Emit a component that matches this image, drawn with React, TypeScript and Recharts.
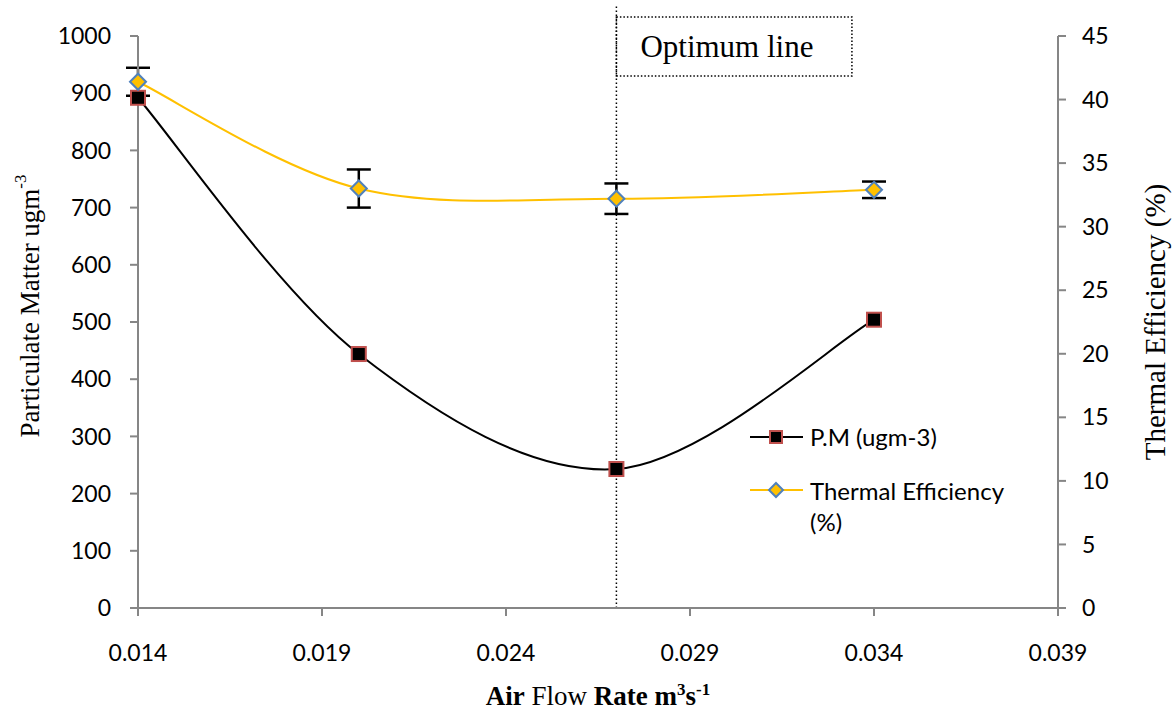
import {
  ErrorBar,
  Legend,
  Line,
  LineChart,
  ReferenceArea,
  ReferenceLine,
  XAxis,
  YAxis,
} from "recharts";

const airFlow = [0.014, 0.02, 0.027, 0.034];
const particulate = [892, 444, 243, 504];
const thermalEff = [41.4, 33.0, 32.2, 32.9];
const thermalErr = [1.1, 1.5, 1.2, 0.65];

const xTicks = [0.014, 0.019, 0.024, 0.029, 0.034, 0.039];
const pmTicks = [0, 100, 200, 300, 400, 500, 600, 700, 800, 900, 1000];
const teTicks = [0, 5, 10, 15, 20, 25, 30, 35, 40, 45];

const optimumFlow = 0.027;

const data = airFlow.map((x, i) => ({
  x,
  pm: particulate[i],
  te: thermalEff[i],
  teErr: thermalErr[i],
}));

const AXIS_GREY = "#868686";
const SANS = "Lato, 'Open Sans', sans-serif";
const SERIF = "'Liberation Serif', 'DejaVu Serif', serif";

// Excel-like smoothed line: Catmull-Rom segments converted to cubic beziers
const smoothCurve = (context: any) => {
  let pts: [number, number][] = [];
  return {
    areaStart() {},
    areaEnd() {},
    lineStart() {
      pts = [];
    },
    point(x: number, y: number) {
      pts.push([+x, +y]);
    },
    lineEnd() {
      if (!pts.length) return;
      context.moveTo(pts[0][0], pts[0][1]);
      for (let i = 0; i < pts.length - 1; i++) {
        const p0 = pts[Math.max(i - 1, 0)];
        const p1 = pts[i];
        const p2 = pts[i + 1];
        const p3 = pts[Math.min(i + 2, pts.length - 1)];
        context.bezierCurveTo(
          p1[0] + (p2[0] - p0[0]) / 6,
          p1[1] + (p2[1] - p0[1]) / 6,
          p2[0] - (p3[0] - p1[0]) / 6,
          p2[1] - (p3[1] - p1[1]) / 6,
          p2[0],
          p2[1]
        );
      }
    },
  };
};

const SquareDot = (props: any) => {
  const { cx, cy } = props;
  if (cx == null || cy == null) return null;
  return (
    <rect x={cx - 7} y={cy - 7} width={14} height={14} fill="#000" stroke="#C0504D" strokeWidth={2} />
  );
};

const DiamondDot = (props: any) => {
  const { cx, cy } = props;
  if (cx == null || cy == null) return null;
  return (
    <polygon
      points={`${cx},${cy - 8} ${cx + 8},${cy} ${cx},${cy + 8} ${cx - 8},${cy}`}
      fill="#FFC000"
      stroke="#4F81BD"
      strokeWidth={2}
    />
  );
};

const renderLegend = () => (
  <div style={{ fontFamily: SANS, fontSize: 24, color: "#000", lineHeight: "31px" }}>
    <div style={{ display: "flex", alignItems: "center", height: 31 }}>
      <svg width={56} height={20}>
        <line x1={0} y1={10} x2={53} y2={10} stroke="#000" strokeWidth={2} />
        <rect x={20} y={4} width={12} height={12} fill="#000" stroke="#C0504D" strokeWidth={2} />
      </svg>
      <span style={{ marginLeft: 4 }}>P.M (ugm-3)</span>
    </div>
    <div style={{ display: "flex", alignItems: "flex-start", marginTop: 23 }}>
      <svg width={56} height={31} style={{ flexShrink: 0 }}>
        <line x1={0} y1={15} x2={53} y2={15} stroke="#FFC000" strokeWidth={2} />
        <polygon points="26,8 33,15 26,22 19,15" fill="#FFC000" stroke="#4F81BD" strokeWidth={2} />
      </svg>
      <span style={{ marginLeft: 4 }}>
        Thermal Efficiency
        <br />
        (%)
      </span>
    </div>
  </div>
);

const XTitle = (props: any) => {
  const { viewBox } = props;
  const cx = viewBox.x + viewBox.width / 2;
  return (
    <text x={cx} y={705} textAnchor="middle" fontFamily={SERIF} fontSize={27} fill="#000">
      <tspan fontWeight="bold">Air</tspan>
      <tspan> Flow </tspan>
      <tspan fontWeight="bold">Rate m</tspan>
      <tspan fontWeight="bold" fontSize={17} dy={-10}>3</tspan>
      <tspan fontWeight="bold" dy={10}>s</tspan>
      <tspan fontWeight="bold" fontSize={17} dy={-10}>-1</tspan>
    </text>
  );
};

const LeftTitle = (props: any) => {
  const { viewBox } = props;
  const cy = viewBox.y + viewBox.height / 2 - 16;
  return (
    <text
      x={30}
      y={cy}
      transform={`rotate(-90, 30, ${cy})`}
      textAnchor="middle"
      dominantBaseline="central"
      fontFamily={SERIF}
      fontSize={27}
      fill="#000"
    >
      Particulate Matter ugm
      <tspan fontSize={17} dy={-10}>-3</tspan>
    </text>
  );
};

const RightTitle = (props: any) => {
  const { viewBox } = props;
  const cy = viewBox.y + viewBox.height / 2;
  return (
    <text
      x={1155}
      y={cy}
      transform={`rotate(-90, 1155, ${cy})`}
      textAnchor="middle"
      dominantBaseline="central"
      fontFamily={SERIF}
      fontSize={29}
      fill="#000"
    >
      Thermal Efficiency (%)
    </text>
  );
};

const OptimumLabel = (props: any) => {
  const { viewBox } = props;
  return (
    <text
      x={viewBox.x + 24}
      y={viewBox.y + viewBox.height / 2}
      dominantBaseline="central"
      fontFamily={SERIF}
      fontSize={31}
      fill="#000"
    >
      Optimum line
    </text>
  );
};

const tickStyle = { fill: "#000", fontSize: 23, fontFamily: SANS };

export default function App() {
  return (
    <div style={{ position: "absolute", left: 0, top: 0, background: "#fff" }}>
      <LineChart width={1173} height={713} data={data} margin={{ top: 36, right: 0, bottom: 0, left: 0 }}>
        <XAxis
          dataKey="x"
          type="number"
          domain={[0.014, 0.039]}
          ticks={xTicks}
          tickFormatter={(v: number) => v.toFixed(3)}
          height={105}
          tickSize={8}
          tickMargin={29}
          tick={tickStyle}
          axisLine={{ stroke: AXIS_GREY, strokeWidth: 2 }}
          tickLine={{ stroke: AXIS_GREY, strokeWidth: 2 }}
          label={<XTitle />}
        />
        <YAxis
          yAxisId="pm"
          domain={[0, 1000]}
          ticks={pmTicks}
          width={138}
          tickSize={8}
          tickMargin={19}
          tick={tickStyle}
          axisLine={{ stroke: AXIS_GREY, strokeWidth: 2 }}
          tickLine={{ stroke: AXIS_GREY, strokeWidth: 2 }}
          label={<LeftTitle />}
        />
        <YAxis
          yAxisId="te"
          orientation="right"
          domain={[0, 45]}
          ticks={teTicks}
          width={115}
          tickSize={8}
          tickMargin={16}
          tick={tickStyle}
          axisLine={{ stroke: AXIS_GREY, strokeWidth: 2 }}
          tickLine={{ stroke: AXIS_GREY, strokeWidth: 2 }}
          label={<RightTitle />}
        />
        <ReferenceLine
          yAxisId="pm"
          segment={[
            { x: optimumFlow, y: 0 },
            { x: optimumFlow, y: 1052 },
          ]}
          stroke="#000"
          strokeWidth={1.5}
          strokeDasharray="1.5 2.5"
          ifOverflow="visible"
        />
        <ReferenceArea
          yAxisId="pm"
          x1={optimumFlow}
          x2={0.0334}
          y1={930}
          y2={1033}
          fill="#fff"
          fillOpacity={1}
          stroke="#000"
          strokeWidth={1.5}
          strokeDasharray="1.5 2"
          ifOverflow="visible"
          label={<OptimumLabel />}
        />
        <Line
          yAxisId="pm"
          dataKey="pm"
          type={smoothCurve as any}
          stroke="#000"
          strokeWidth={2}
          dot={<SquareDot />}
          activeDot={false}
          isAnimationActive={false}
        />
        <Line
          yAxisId="te"
          dataKey="te"
          type={smoothCurve as any}
          stroke="#FFC000"
          strokeWidth={2}
          dot={<DiamondDot />}
          activeDot={false}
          isAnimationActive={false}
        >
          <ErrorBar dataKey="teErr" direction="y" width={12} stroke="#000" strokeWidth={2.5} />
        </Line>
        <Legend
          layout="horizontal"
          verticalAlign="middle"
          align="center"
          content={renderLegend}
          wrapperStyle={{ left: 750, top: 421, width: 320, right: "auto", bottom: "auto" }}
        />
      </LineChart>
    </div>
  );
}
